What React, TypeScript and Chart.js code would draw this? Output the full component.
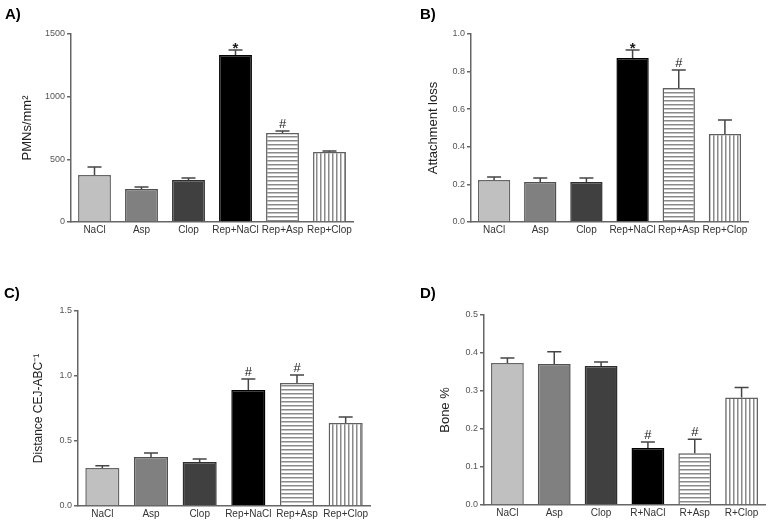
import React, { useEffect, useRef } from 'react';
import { Chart, registerables } from 'chart.js';

Chart.register(...registerables);

const FONT = 'Arial, "Liberation Sans", Helvetica, sans-serif';
Chart.defaults.font.family = FONT;

// ---------- data ----------
const categoriesRep = ['NaCl', 'Asp', 'Clop', 'Rep+NaCl', 'Rep+Asp', 'Rep+Clop'];
const categoriesR = ['NaCl', 'Asp', 'Clop', 'R+NaCl', 'R+Asp', 'R+Clop'];

const pmnValues = [375, 263, 335, 1333, 710, 558];
const pmnErrors = [64, 17, 16, 40, 16, 9];
const pmnMarks = ['', '', '', '*', '#', ''];
const pmnTicks = [0, 500, 1000, 1500];
const pmnTickLabels = ['0', '500', '1000', '1500'];

const attachValues = [0.223, 0.213, 0.213, 0.872, 0.713, 0.468];
const attachErrors = [0.016, 0.021, 0.021, 0.043, 0.096, 0.075];
const attachMarks = ['', '', '', '*', '#', ''];
const attachTicks = [0, 0.2, 0.4, 0.6, 0.8, 1.0];
const attachTickLabels = ['0.0', '0.2', '0.4', '0.6', '0.8', '1.0'];

const distValues = [0.292, 0.377, 0.338, 0.892, 0.946, 0.638];
const distErrors = [0.018, 0.031, 0.024, 0.085, 0.062, 0.047];
const distMarks = ['', '', '', '#', '#', ''];
const distTicks = [0, 0.5, 1.0, 1.5];
const distTickLabels = ['0.0', '0.5', '1.0', '1.5'];

const boneValues = [0.374, 0.371, 0.366, 0.15, 0.136, 0.283];
const boneErrors = [0.013, 0.032, 0.01, 0.016, 0.037, 0.026];
const boneMarks = ['', '', '', '#', '#', ''];
const boneTicks = [0, 0.1, 0.2, 0.3, 0.4, 0.5];
const boneTickLabels = ['0.0', '0.1', '0.2', '0.3', '0.4', '0.5'];

// ---------- styling helpers ----------
function makeStripe(horizontal: boolean): CanvasPattern | string {
  const c = document.createElement('canvas');
  c.width = 4;
  c.height = 4;
  const g = c.getContext('2d');
  if (!g) return '#ffffff';
  g.fillStyle = '#ffffff';
  g.fillRect(0, 0, 4, 4);
  g.fillStyle = '#8a8a8a';
  if (horizontal) g.fillRect(0, 0, 4, 1.5);
  else g.fillRect(0, 0, 1.5, 4);
  const p = g.createPattern(c, 'repeat');
  return p || '#ffffff';
}

const errorBarPlugin = {
  id: 'errorBarsAndMarks',
  afterDatasetsDraw(chart: any) {
    const ctx = chart.ctx;
    const ds = chart.data.datasets[0];
    const meta = chart.getDatasetMeta(0);
    const y = chart.scales.y;
    ctx.save();
    ctx.strokeStyle = '#454545';
    ctx.lineWidth = 1.5;
    meta.data.forEach((bar: any, i: number) => {
      const v = ds.data[i];
      const e = ds.errors[i];
      const top = y.getPixelForValue(v);
      const cap = y.getPixelForValue(v + e);
      const x = bar.x;
      ctx.beginPath();
      ctx.moveTo(x, top);
      ctx.lineTo(x, cap);
      ctx.moveTo(x - 7, cap);
      ctx.lineTo(x + 7, cap);
      ctx.stroke();
      const m = ds.marks[i];
      if (m) {
        ctx.fillStyle = '#1a1a1a';
        ctx.textAlign = 'center';
        ctx.textBaseline = 'alphabetic';
        if (m === '*') {
          ctx.font = 'bold 15px ' + FONT;
          ctx.fillText(m, x, cap + 3);
        } else {
          ctx.font = '13px ' + FONT;
          ctx.fillText(m, x, cap - 3);
        }
      }
    });
    ctx.restore();
  },
};

type Spec = {
  left: number; top: number; w: number; h: number;
  categories: string[]; values: number[]; errors: number[]; marks: string[];
  ticks: number[]; tickLabels: string[]; max: number;
  title: string; titleSize: number; titlePad: number;
  yWidth: number; xHeight: number; padTop: number; padRight: number;
};

function Panel({ spec }: { spec: Spec }) {
  const ref = useRef<HTMLCanvasElement>(null);
  useEffect(() => {
    const canvas = ref.current;
    if (!canvas) return;
    const fills = ['#c0c0c0', '#808080', '#404040', '#000000', makeStripe(true), makeStripe(false)];
    const borders = ['#666666', '#505050', '#2e2e2e', '#000000', '#606060', '#606060'];
    const chart = new Chart(canvas, {
      type: 'bar',
      data: {
        labels: spec.categories,
        datasets: [
          {
            data: spec.values,
            errors: spec.errors,
            marks: spec.marks,
            backgroundColor: fills,
            borderColor: borders,
            borderWidth: 1.5,
            barPercentage: 0.7,
            categoryPercentage: 1,
          } as any,
        ],
      },
      options: {
        responsive: false,
        animation: false,
        layout: { padding: { left: 0, top: spec.padTop, right: spec.padRight, bottom: 0 } },
        plugins: { legend: { display: false }, tooltip: { enabled: false } },
        scales: {
          x: {
            grid: { display: false, drawTicks: false },
            border: { display: true, color: '#666666', width: 1.5 },
            ticks: { color: '#333333', font: { size: 10 }, padding: 2, maxRotation: 0, autoSkip: false },
            afterFit: (s: any) => { s.height = spec.xHeight; },
          },
          y: {
            min: 0,
            max: spec.max,
            afterBuildTicks: (s: any) => { s.ticks = spec.ticks.map((v) => ({ value: v })); },
            ticks: {
              callback: (_v: any, i: number) => spec.tickLabels[i],
              color: '#555555',
              font: { size: 9 },
              padding: 2,
            },
            grid: { drawOnChartArea: false, drawTicks: true, tickLength: 4, color: '#666666', lineWidth: 1.5 },
            border: { display: true, color: '#666666', width: 1.5 },
            title: {
              display: true,
              text: spec.title,
              color: '#222222',
              font: { size: spec.titleSize },
              padding: { top: spec.titlePad, bottom: 0 },
            },
            afterFit: (s: any) => { s.width = spec.yWidth; },
          },
        },
      },
      plugins: [errorBarPlugin],
    });
    return () => chart.destroy();
  }, [spec]);
  return (
    <canvas
      ref={ref}
      width={spec.w}
      height={spec.h}
      style={{ position: 'absolute', left: spec.left, top: spec.top, width: spec.w, height: spec.h }}
    />
  );
}

const panels: Spec[] = [
  {
    left: 0, top: 0, w: 385, h: 250,
    categories: categoriesRep, values: pmnValues, errors: pmnErrors, marks: pmnMarks,
    ticks: pmnTicks, tickLabels: pmnTickLabels, max: 1500,
    title: 'PMNs/mm²', titleSize: 13, titlePad: 20,
    yWidth: 71, xHeight: 28, padTop: 34, padRight: 32,
  },
  {
    left: 385, top: 0, w: 386, h: 250,
    categories: categoriesRep, values: attachValues, errors: attachErrors, marks: attachMarks,
    ticks: attachTicks, tickLabels: attachTickLabels, max: 1.0,
    title: 'Attachment loss', titleSize: 13, titlePad: 41,
    yWidth: 86, xHeight: 28, padTop: 34, padRight: 23,
  },
  {
    left: 0, top: 265, w: 385, h: 258,
    categories: categoriesRep, values: distValues, errors: distErrors, marks: distMarks,
    ticks: distTicks, tickLabels: distTickLabels, max: 1.5,
    title: 'Distance CEJ-ABC⁻¹', titleSize: 12, titlePad: 31,
    yWidth: 78, xHeight: 17, padTop: 46, padRight: 15,
  },
  {
    left: 385, top: 265, w: 386, h: 258,
    categories: categoriesR, values: boneValues, errors: boneErrors, marks: boneMarks,
    ticks: boneTicks, tickLabels: boneTickLabels, max: 0.5,
    title: 'Bone %', titleSize: 13, titlePad: 53,
    yWidth: 99, xHeight: 18, padTop: 50, padRight: 6,
  },
];

const letters = [
  { text: 'A)', left: 5, top: 6 },
  { text: 'B)', left: 420, top: 6 },
  { text: 'C)', left: 4, top: 285 },
  { text: 'D)', left: 420, top: 285 },
];

export default function App() {
  return (
    <div style={{ position: 'absolute', left: 0, top: 0, width: 771, height: 523, background: '#ffffff', overflow: 'hidden' }}>
      {panels.map((p, i) => (
        <Panel key={i} spec={p} />
      ))}
      {letters.map((l) => (
        <div
          key={l.text}
          style={{
            position: 'absolute', left: l.left, top: l.top,
            font: 'bold 15px ' + FONT, lineHeight: '16px', color: '#000',
          }}
        >
          {l.text}
        </div>
      ))}
    </div>
  );
}
